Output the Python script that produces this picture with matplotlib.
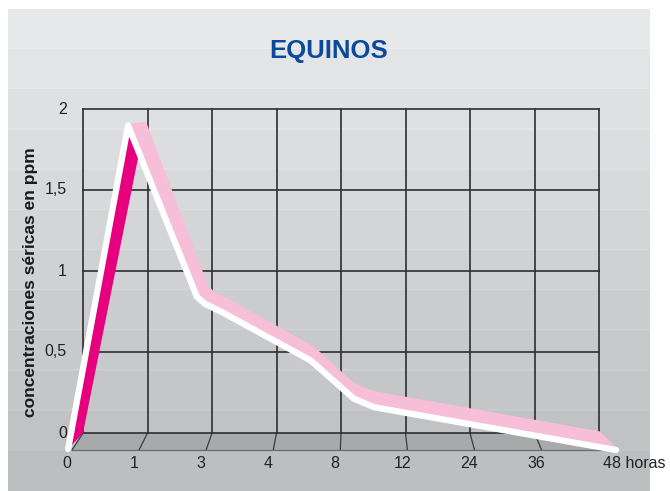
import numpy as np
import matplotlib
matplotlib.use("Agg")
import matplotlib.pyplot as plt
from matplotlib.patches import Polygon, Rectangle

plt.rcParams['font.family'] = ['Liberation Sans', 'DejaVu Sans']

# ---------------------------------------------------------------
# data
# ---------------------------------------------------------------
title = "EQUINOS"
y_label = "concentraciones séricas en ppm"
tick_hours = [0, 1, 3, 4, 8, 12, 24, 36, 48]
x_labels = ["0", "1", "3", "4", "8", "12", "24", "36", "48 horas"]
y_ticks = [0, 0.5, 1, 1.5, 2]
y_labels = ["0", "0,5", "1", "1,5", "2"]

# serum concentration curve (hours, ppm)
curve_hours = [0, 0.96, 2.84, 3.03, 3.28, 6.26, 8.74, 9.92, 48]
curve_ppm = [0, 1.91, 0.90, 0.86, 0.81, 0.525, 0.30, 0.25, 0]

# ---------------------------------------------------------------
# layout (back wall: index units across, ppm units up)
# ---------------------------------------------------------------
W, H = 670, 491
X0, DX = 83.0, 64.5      # pixel of index 0, pixels per category
Y0, DV = 433.0, 162.0    # pixel row of 0 ppm, pixels per ppm

floor_c, floor_k = ((358 - X0) / DX, (Y0 - 8) / DV), 1.04


def floor_front(i, v):
    i = np.asarray(i, float)
    v = np.asarray(v, float)
    return floor_c[0] + (i - floor_c[0]) * floor_k, floor_c[1] + (v - floor_c[1]) * floor_k


def ribbon_front(i, v):
    # front edge of the ribbon, seen slightly from the left and above
    i = np.asarray(i, float)
    v = np.asarray(v, float)
    return -0.231 + 1.062 * i - 0.047 * v, -0.099 - 0.00076 * i + 1.046 * v


fig = plt.figure(figsize=(W / 100, H / 100), dpi=100)
fig.patch.set_facecolor('white')
ax = fig.add_axes([0, 0, 1, 1])
ax.set_xlim(-X0 / DX, (W - X0) / DX)
ax.set_ylim((Y0 - H) / DV, Y0 / DV)
ax.axis('off')

# stepped grey background
top, bottom, left, right = 9, H, 8, 650
n_bands = 12
edges = np.linspace(top, bottom, n_bands + 1)
c_top = np.array([231, 232, 234]) / 255
c_bot = np.array([189, 190, 192]) / 255
for b in range(n_bands):
    col = c_top + (c_bot - c_top) * b / (n_bands - 1)
    y1, y2 = edges[b], edges[b + 1]
    ax.add_patch(Rectangle((left / W, 1 - y2 / H), (right - left) / W, (y2 - y1) / H,
                           transform=ax.transAxes, facecolor=col, edgecolor='none', zorder=0))
    if b > 0:
        ax.add_patch(Rectangle((left / W, 1 - y1 / H), (right - left) / W, 1.2 / H,
                               transform=ax.transAxes, facecolor=np.minimum(col + 0.03, 1),
                               edgecolor='none', zorder=0.5))

n = len(tick_hours)
idx = np.arange(n)

# floor
fx, fy = floor_front(idx, np.zeros(n))
floor = np.column_stack([np.r_[idx, fx[::-1]], np.r_[np.zeros(n), fy[::-1]]])
ax.add_patch(Polygon(floor, closed=True, facecolor='#a8a9ab', edgecolor='none', zorder=1))
for i in idx:
    ax.plot([i, fx[i]], [0, fy[i]], color='#3a3a3a', lw=0.9, zorder=2)
ax.plot(fx, fy, color='#6a6b6d', lw=0.9, zorder=2)

# back wall grid
for i in idx:
    ax.plot([i, i], [0, 2], color='#2e2e2e', lw=1.2, zorder=2)
for v in y_ticks:
    ax.plot([0, n - 1], [v, v], color='#2e2e2e', lw=1.2, zorder=2)

# ribbon
ci = np.interp(curve_hours, tick_hours, idx)
cv = np.array(curve_ppm, float)
rx, ry = ribbon_front(ci, cv)
peak = int(np.argmax(cv))

rise = np.column_stack([np.r_[rx[:peak + 1], ci[peak::-1]], np.r_[ry[:peak + 1], cv[peak::-1]]])
ax.add_patch(Polygon(rise, closed=True, facecolor='#e6007e', edgecolor='none', zorder=3))

fall = np.column_stack([np.r_[rx[peak:], ci[:peak - 1:-1]], np.r_[ry[peak:], cv[:peak - 1:-1]]])
ax.add_patch(Polygon(fall, closed=True, facecolor='#f7bed8', edgecolor='#f7bed8',
                     lw=2.5, joinstyle='round', zorder=4))

ax.plot(rx, ry, color='white', lw=4.5, solid_joinstyle='round', solid_capstyle='round', zorder=5)

# texts
ax.text(329 / W, 1 - 51 / H, title, transform=ax.transAxes, ha='center', va='center',
        fontsize=18.5, fontweight='bold', color='#0b4a9b')
ax.text(31 / W, 1 - 282 / H, y_label, transform=ax.transAxes, rotation=90,
        ha='center', va='center', fontsize=12.5, fontweight='bold', color='#1a1a1a')

for v, lab in zip(y_ticks, y_labels):
    ax.text(-0.25, v, lab, ha='right', va='center', fontsize=11.5, color='#222222')

lab_y = (Y0 - 463) / DV
for i, lab in enumerate(x_labels):
    if i == n - 1:
        ax.text(fx[i] - 0.09, lab_y, lab, ha='left', va='center', fontsize=11.5, color='#222222')
    else:
        ax.text(fx[i] - 0.08, lab_y, lab, ha='center', va='center', fontsize=11.5, color='#222222')

fig.savefig('out.png', dpi=100, facecolor='white')
